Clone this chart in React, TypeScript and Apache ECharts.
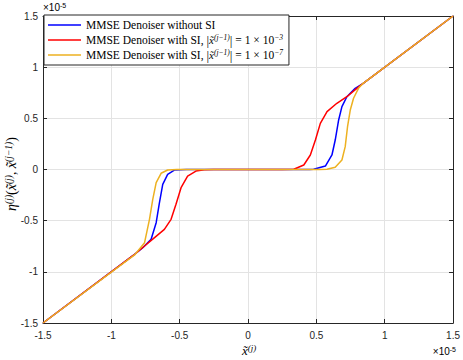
import React, { useEffect, useRef } from "react";
import * as echarts from "echarts";

const seriesNames = [
  "MMSE Denoiser without SI",
  "MMSE Denoiser with SI, |x̃(j−1)| = 1 × 10−3",
  "MMSE Denoiser with SI, |x̃(j−1)| = 1 × 10−7",
];
const legendRich = [
  "{t|MMSE Denoiser without SI}",
  "{t|MMSE Denoiser with SI, }{b||}{m|x̃}{s|(j−1)}{b||}{t| = 1 × 10}{s|−3}",
  "{t|MMSE Denoiser with SI, }{b||}{m|x̃}{s|(j−1)}{b||}{t| = 1 × 10}{s|−7}",
];
const seriesColors = ["#0000ff", "#ff0000", "#edb120"];

// values in units of 1e-5
const blueData: [number, number][] = [
  [-1.5, -1.5], [-0.84, -0.84], [-0.77, -0.764], [-0.709, -0.682],
  [-0.672, -0.52], [-0.648, -0.324], [-0.624, -0.145], [-0.588, -0.047], [-0.539, -0.005],
  [-0.45, 0], [0.45, 0], [0.48, 0.002], [0.566, 0.034], [0.614, 0.142],
  [0.638, 0.288], [0.663, 0.484], [0.687, 0.614], [0.723, 0.711], [0.784, 0.793],
  [0.84, 0.84], [1.5, 1.5],
];
const redData: [number, number][] = [
  [-1.5, -1.5], [-0.84, -0.84], [-0.757, -0.748], [-0.684, -0.666],
  [-0.612, -0.585], [-0.563, -0.487], [-0.527, -0.34], [-0.49, -0.178], [-0.442, -0.064],
  [-0.381, -0.015], [-0.32, -0.002], [-0.25, 0], [0.25, 0], [0.335, 0.002],
  [0.408, 0.044], [0.456, 0.142], [0.493, 0.288], [0.529, 0.451], [0.578, 0.565],
  [0.65, 0.647], [0.723, 0.711], [0.796, 0.793], [0.84, 0.84], [1.5, 1.5],
];
const yellowData: [number, number][] = [
  [-1.5, -1.5], [-0.83, -0.835], [-0.757, -0.715], [-0.721, -0.487],
  [-0.697, -0.291], [-0.672, -0.129], [-0.636, -0.037], [-0.588, -0.005], [-0.52, 0],
  [0.52, 0], [0.578, 0.002], [0.638, 0.021], [0.687, 0.093], [0.711, 0.223],
  [0.728, 0.418], [0.748, 0.581], [0.772, 0.696], [0.808, 0.793], [0.84, 0.84],
  [1.5, 1.5],
];
const allData = [blueData, redData, yellowData];

const AX = "#262626";
const GRID = "#e3e3e3";
const SANS = "Liberation Sans, Arial, sans-serif";
const SERIF = "Liberation Serif, DejaVu Serif, serif";

export default function App() {
  const ref = useRef<HTMLDivElement>(null);
  useEffect(() => {
    if (!ref.current) return;
    document.body.style.margin = "0";
    const chart = echarts.init(ref.current, undefined, { renderer: "svg" });
    const baseAxis = {
      type: "value" as const,
      min: -1.5,
      max: 1.5,
      interval: 0.5,
    };
    const line = { show: true, onZero: false, lineStyle: { color: AX, width: 1 } };
    const tick = { show: true, inside: true, length: 4, lineStyle: { color: AX } };
    const expRich = {
      e: { fontFamily: SANS, fontSize: 10, color: AX },
      p: { fontFamily: SANS, fontSize: 7, color: AX, verticalAlign: "top" },
    };
    const xRich = {
      m: { fontFamily: SERIF, fontStyle: "italic", fontSize: 13, color: AX },
      s: { fontFamily: SERIF, fontStyle: "italic", fontSize: 9, color: AX, verticalAlign: "top" },
    };
    const yRich = {
      m: { fontFamily: SERIF, fontStyle: "italic", fontSize: 14, color: AX },
      r: { fontFamily: SERIF, fontSize: 14, color: AX },
      s: { fontFamily: SERIF, fontStyle: "italic", fontSize: 9.5, color: AX, verticalAlign: "top" },
    };
    chart.setOption({
      animation: false,
      backgroundColor: "#ffffff",
      grid: { left: 43, top: 16, right: 8, bottom: 37, containLabel: false },
      xAxis: [
        {
          ...baseAxis,
          position: "bottom",
          axisLine: line,
          axisTick: tick,
          axisLabel: {
            color: AX, fontFamily: SANS, fontSize: 10, margin: 7,
            formatter: (v: number) => String(v),
          },
          splitLine: { show: true, lineStyle: { color: GRID, width: 1 } },
        },
        {
          ...baseAxis,
          position: "top",
          axisLine: line,
          axisTick: tick,
          axisLabel: { show: false },
          splitLine: { show: false },
        },
      ],
      yAxis: [
        {
          ...baseAxis,
          position: "left",
          axisLine: line,
          axisTick: tick,
          axisLabel: {
            color: AX, fontFamily: SANS, fontSize: 10, margin: 5,
            formatter: (v: number) => String(v),
          },
          splitLine: { show: true, lineStyle: { color: GRID, width: 1 } },
        },
        {
          ...baseAxis,
          position: "right",
          axisLine: line,
          axisTick: tick,
          axisLabel: { show: false },
          splitLine: { show: false },
        },
      ],
      legend: {
        orient: "vertical",
        left: 44,
        top: 15,
        padding: [3, 6, 3, 4],
        itemGap: 1,
        itemWidth: 33,
        itemHeight: 1.6,
        icon: "rect",
        backgroundColor: "#ffffff",
        borderColor: AX,
        borderWidth: 1,
        borderRadius: 0,
        formatter: (name: string) => legendRich[seriesNames.indexOf(name)],
        textStyle: {
          fontFamily: SERIF,
          fontSize: 11.5,
          color: "#000",
          rich: {
            t: { fontFamily: SERIF, fontSize: 11.5, color: "#000", height: 14, lineHeight: 14 },
            m: { fontFamily: SERIF, fontStyle: "italic", fontSize: 11, color: "#000" },
            b: { fontFamily: SERIF, fontSize: 13, color: "#000" },
            s: { fontFamily: SERIF, fontStyle: "italic", fontSize: 7.5, color: "#000", verticalAlign: "top" },
          },
        },
        data: seriesNames,
      },
      series: allData.map((d, i) => ({
        name: seriesNames[i],
        type: "line",
        data: d,
        xAxisIndex: 0,
        yAxisIndex: 0,
        showSymbol: false,
        symbol: "none",
        smooth: false,
        z: 3 + i,
        lineStyle: { color: seriesColors[i], width: 1.5 },
        itemStyle: { color: seriesColors[i] },
      })),
      graphic: [
        {
          type: "text",
          x: 43,
          y: 2,
          z: 100,
          style: { text: "{e|×10}{p|-5}", rich: expRich, align: "left", verticalAlign: "top" },
        },
        {
          type: "text",
          x: 456,
          y: 346,
          z: 100,
          style: { text: "{e|×10}{p|-5}", rich: expRich, align: "right", verticalAlign: "top" },
        },
        {
          type: "text",
          x: 249,
          y: 350,
          z: 100,
          style: {
            text: "{m|x̃}{s|(j)}",
            rich: xRich,
            align: "center",
            verticalAlign: "middle",
          },
        },
        {
          type: "text",
          x: 11,
          y: 174,
          z: 100,
          rotation: Math.PI / 2,
          style: {
            text: "{m|η}{s|(j)}{r|(}{m|x̃}{s|(j)}{r|, }{m|x̃}{s|(j−1)}{r|)}",
            rich: yRich,
            align: "center",
            verticalAlign: "middle",
          },
        },
      ],
    });
    return () => chart.dispose();
  }, []);
  return (
    <div
      ref={ref}
      style={{ position: "fixed", left: 0, top: 0, width: 463, height: 360 }}
    />
  );
}
